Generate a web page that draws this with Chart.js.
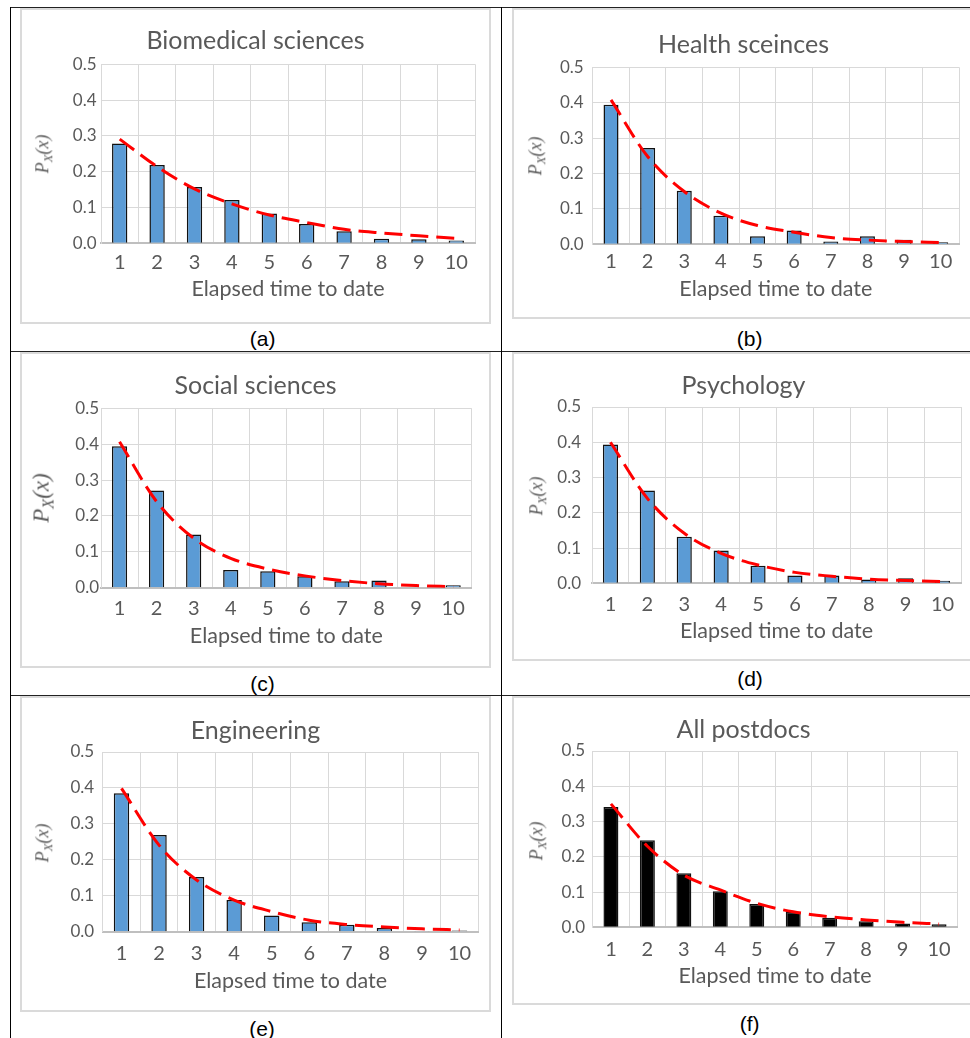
<!DOCTYPE html>
<html>
<head>
<meta charset="utf-8">
<script src="https://cdn.jsdelivr.net/npm/chart.js@4.4.1/dist/chart.umd.min.js"></script>
<style>
  html, body { margin: 0; padding: 0; background: #fff; }
  body { width: 970px; height: 1038px; position: relative; overflow: hidden; }
  .box { position: absolute; box-sizing: border-box; border: 2px solid #dadada; }
  .cv { position: absolute; }
  .hline { position: absolute; height: 1.5px; background: #222; }
  .vline { position: absolute; width: 1.5px; background: #000; }
  .ytitle { position: absolute; white-space: nowrap; font-family: "Liberation Serif", serif; font-style: italic; color: #595959; line-height: 1; transform: translate(-50%, -50%) rotate(-90deg); }
  .ytitle .sub { font-size: 70%; vertical-align: -0.3em; }
  .plabel { position: absolute; white-space: nowrap; font-family: "Liberation Sans", Arial, sans-serif; font-size: 21px; color: #000; line-height: 1; transform: translate(-50%, -50%); }
</style>
</head>
<body>
<script>
// ---------------- data ----------------
const categories = ['1', '2', '3', '4', '5', '6', '7', '8', '9', '10'];
const chartTitles = ['Biomedical sciences', 'Health sceinces', 'Social sciences', 'Psychology', 'Engineering', 'All postdocs'];
const panelLabels = ['(a)', '(b)', '(c)', '(d)', '(e)', '(f)'];
const xAxisTitle = 'Elapsed time to date';
const yTickValues = [0.0, 0.1, 0.2, 0.3, 0.4, 0.5];

const biomedicalBars = [0.279, 0.219, 0.157, 0.121, 0.083, 0.054, 0.034, 0.013, 0.011, 0.008];
const biomedicalFit  = [0.291, 0.214, 0.152, 0.110, 0.079, 0.058, 0.039, 0.029, 0.021, 0.014];

const healthBars = [0.394, 0.272, 0.151, 0.081, 0.023, 0.039, 0.008, 0.023, 0.013, 0.006];
const healthFit  = [0.408, 0.248, 0.149, 0.088, 0.053, 0.034, 0.019, 0.012, 0.008, 0.005];

const socialBars = [0.394, 0.271, 0.148, 0.049, 0.046, 0.032, 0.018, 0.020, 0.000, 0.0065];
const socialFit  = [0.407, 0.240, 0.138, 0.082, 0.052, 0.033, 0.020, 0.011, 0.006, 0.003];

const psychologyBars = [0.394, 0.263, 0.132, 0.093, 0.050, 0.022, 0.022, 0.011, 0.014, 0.0075];
const psychologyFit  = [0.400, 0.241, 0.142, 0.085, 0.052, 0.031, 0.020, 0.012, 0.008, 0.005];

const engineeringBars = [0.385, 0.269, 0.152, 0.088, 0.045, 0.026, 0.019, 0.010, 0.002, 0.003];
const engineeringFit  = [0.399, 0.241, 0.144, 0.088, 0.056, 0.032, 0.020, 0.013, 0.008, 0.005];

const allPostdocsBars = [0.341, 0.247, 0.153, 0.102, 0.066, 0.044, 0.027, 0.017, 0.011, 0.0085];
const allPostdocsFit  = [0.350, 0.230, 0.148, 0.106, 0.068, 0.044, 0.030, 0.021, 0.014, 0.0095];

const barSeries = [biomedicalBars, healthBars, socialBars, psychologyBars, engineeringBars, allPostdocsBars];
const fitSeries = [biomedicalFit, healthFit, socialFit, psychologyFit, engineeringFit, allPostdocsFit];

// ---------------- layout (page pixels) ----------------
const panels = [
  { box: {x: 20,  y: 8,   w: 471, h: 316}, plot: {l: 101,   r: 475,   t: 64.3,  b: 243.3}, titleBase: 49,    xTitleBase: 296,   xTickTop: 252.7, yPad: 4.5, yTitle: {x: 44,    y: 154,   s: 18}, label: {x: 262.7, y: 338.3}, barColor: '#5b9bd5' },
  { box: {x: 512, y: 8,   w: 463, h: 311}, plot: {l: 592.7, r: 959,   t: 67.3,  b: 244.3}, titleBase: 53.3,  xTitleBase: 296,   xTickTop: 251.7, yPad: 9,   yTitle: {x: 537,   y: 156,   s: 18}, label: {x: 749.7, y: 337.5}, barColor: '#5b9bd5' },
  { box: {x: 20,  y: 352, w: 471, h: 316}, plot: {l: 101,   r: 471.7, t: 408.3, b: 587.7}, titleBase: 394.3, xTitleBase: 643.3, xTickTop: 599,   yPad: 2,   yTitle: {x: 43,    y: 497.8, s: 23}, label: {x: 262.5, y: 683.3}, barColor: '#5b9bd5' },
  { box: {x: 512, y: 352, w: 463, h: 309}, plot: {l: 592,   r: 961,   t: 407,   b: 583.3}, titleBase: 394,   xTitleBase: 637.7, xTickTop: 594.3, yPad: 11,  yTitle: {x: 537.5, y: 495.8, s: 18}, label: {x: 750,   y: 677.5}, barColor: '#5b9bd5' },
  { box: {x: 20,  y: 696, w: 471, h: 316}, plot: {l: 102.7, r: 478.3, t: 752,   b: 931.7}, titleBase: 739,   xTitleBase: 988.3, xTickTop: 944,   yPad: 8.5, yTitle: {x: 43.8,  y: 842.5, s: 18}, label: {x: 262,   y: 1028},  barColor: '#5b9bd5' },
  { box: {x: 512, y: 696, w: 463, h: 309}, plot: {l: 592.7, r: 957.3, t: 751,   b: 927.3}, titleBase: 737.7, xTitleBase: 983.3, xTickTop: 939.3, yPad: 7.5, yTitle: {x: 537.5, y: 840.5, s: 18}, label: {x: 749.7, y: 1022.5}, barColor: '#000000' }
];

const FONT = 'Lato';
const TEXT = '#595959';
const TITLE_SIZE = 25, XTITLE_SIZE = 21.5, XTICK_SIZE = 20, YTICK_SIZE = 17;
const MID = 0.3225; // em offset of 'middle' above alphabetic baseline
const TOPO = 0.8225; // em offset of 'top' above alphabetic baseline
const CAP = 0.7165;

// separator lines
function addDiv(cls, css) { const d = document.createElement('div'); d.className = cls; Object.assign(d.style, css); document.body.appendChild(d); return d; }
addDiv('hline', {left: '10px', top: '6.5px', width: '960px'});
addDiv('hline', {left: '10px', top: '350.5px', width: '960px'});
addDiv('hline', {left: '10px', top: '694.8px', width: '960px'});
addDiv('vline', {left: '9.8px', top: '6.5px', height: '1031px'});
addDiv('vline', {left: '500.6px', top: '6.5px', height: '1032px'});

panels.forEach((P, i) => {
  const B = P.box, A = P.plot;
  addDiv('box', {left: B.x + 'px', top: B.y + 'px', width: B.w + 'px', height: B.h + 'px'});
  const c = document.createElement('canvas');
  c.className = 'cv';
  c.width = B.w; c.height = B.h;
  c.style.left = B.x + 'px'; c.style.top = B.y + 'px';
  c.style.width = B.w + 'px'; c.style.height = B.h + 'px';
  document.body.appendChild(c);

  // title block
  const tLH = TITLE_SIZE * 1.2;
  const tCenter = P.titleBase - MID * TITLE_SIZE - B.y;
  const tPadTop = tCenter - tLH / 2;
  const tPadBottom = (A.t - B.y) - tLH - tPadTop;
  // x axis block
  const xH = B.y + B.h - A.b;
  const xLH = XTITLE_SIZE * 1.2;
  const xCenter = P.xTitleBase - MID * XTITLE_SIZE;
  const xTitlePadBottom = (B.y + B.h - xCenter) - xLH / 2;
  const xTickPad = P.xTickTop - (TOPO - CAP) * XTICK_SIZE - A.b;
  const rightPad = B.x + B.w - A.r;

  new Chart(c, {
    type: 'bar',
    data: {
      labels: categories,
      datasets: [
        { type: 'line', data: fitSeries[i], borderColor: '#ff0000', borderWidth: 3, borderDash: [18, 8],
          pointRadius: 0, fill: false, cubicInterpolationMode: 'monotone', order: 0 },
        { type: 'bar', data: barSeries[i], backgroundColor: P.barColor, borderColor: '#111', borderWidth: 1.5,
          categoryPercentage: 1, barPercentage: 0.41, order: 1 }
      ]
    },
    options: {
      responsive: false, animation: false, devicePixelRatio: 1,
      layout: { padding: 0 },
      plugins: {
        legend: { display: false }, tooltip: { enabled: false },
        title: { display: true, text: chartTitles[i], color: TEXT,
          font: { family: FONT, size: TITLE_SIZE, weight: 'normal', lineHeight: 1.2 },
          padding: { top: tPadTop, bottom: tPadBottom } }
      },
      scales: {
        x: {
          offset: true,
          grid: { offset: true, color: '#d9d9d9', lineWidth: 1, drawTicks: false },
          border: { display: true, color: '#bfbfbf', width: 2 },
          ticks: { color: TEXT, font: { family: FONT, size: XTICK_SIZE }, padding: xTickPad, maxRotation: 0, autoSkip: false },
          title: { display: true, text: xAxisTitle, color: TEXT, font: { family: FONT, size: XTITLE_SIZE, lineHeight: 1.2 },
            padding: { top: 0, bottom: xTitlePadBottom } },
          afterFit: (s) => { s.height = xH; }
        },
        y: {
          min: 0, max: 0.5,
          afterBuildTicks: (s) => { s.ticks = yTickValues.map(v => ({ value: v })); },
          grid: { color: '#d9d9d9', lineWidth: 1, drawTicks: false },
          border: { display: true, color: '#d9d9d9', width: 1 },
          ticks: { color: TEXT, font: { family: FONT, size: YTICK_SIZE }, padding: P.yPad, callback: (v) => Number(v).toFixed(1) },
          afterFit: (s) => { s.width = A.l - B.x; }
        },
        yRightSpace: {
          position: 'right', display: true, min: 0, max: 0.5,
          grid: { display: false, drawTicks: false }, border: { display: false },
          ticks: { display: false },
          afterFit: (s) => { s.width = rightPad; }
        }
      }
    }
  });

  const yt = addDiv('ytitle', {left: P.yTitle.x + 'px', top: P.yTitle.y + 'px', fontSize: P.yTitle.s + 'px'});
  yt.innerHTML = '<span>P</span><span class="sub">X</span><span>(x)</span>';
  const pl = addDiv('plabel', {left: P.label.x + 'px', top: P.label.y + 'px'});
  pl.textContent = panelLabels[i];
});
</script>
</body>
</html>
